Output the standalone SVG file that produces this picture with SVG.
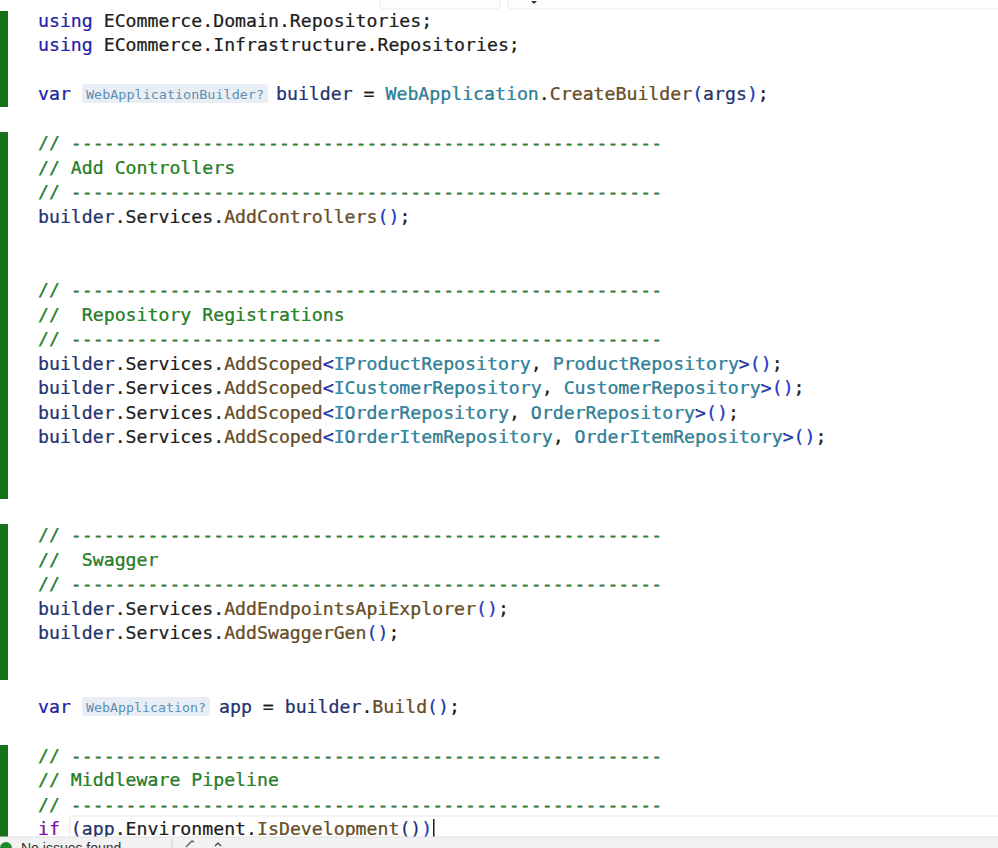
<svg xmlns="http://www.w3.org/2000/svg" width="998" height="848" viewBox="0 0 998 848">
<style>
.c{font-family:"DejaVu Sans Mono","Liberation Mono",monospace;font-size:18.19px;fill:#1e1e1e;white-space:pre;stroke-width:0.2;stroke:currentColor}
.kw{fill:#2323c8}.lv{fill:#1f377f}.m{fill:#74531f}.t{fill:#2b91af}.b{fill:#1f3fd6}.cm{fill:#1f901f}.ctl{fill:#8f08c4}.p{fill:#1e1e1e}
.hint{font-family:"DejaVu Sans Mono","Liberation Mono",monospace;font-size:13px;fill:#5a8fb5;white-space:pre}
.hb{fill:#e9eef5}
.bar{fill:#15721a}
</style>
<rect width="998" height="848" fill="#ffffff"/>
<g id="tabs">
<rect x="380" y="-10" width="120" height="19" rx="4" fill="#fdfdfd" stroke="#ececec"/>
<rect x="508" y="-10" width="500" height="19" rx="4" fill="#fdfdfd" stroke="#ececec"/>
<path d="M531 1 l3 3 l3 -3z" fill="#333"/>
</g>
<g id="gutter">
<rect class="bar" x="0" y="11" width="8" height="96"/>
<rect class="bar" x="0" y="132" width="8" height="367"/>
<rect class="bar" x="0" y="524" width="8" height="156"/>
<rect class="bar" x="0" y="745" width="8" height="92"/>
</g>
<g id="code">
<text class="c" x="38" y="26.5"><tspan class="kw">using</tspan> ECommerce.Domain.Repositories;</text>
<text class="c" x="38" y="51"><tspan class="kw">using</tspan> ECommerce.Infrastructure.Repositories;</text>
<text class="c" x="38" y="100"><tspan class="kw">var</tspan></text>
<rect class="hb" x="82" y="84" width="186" height="19" rx="3"/>
<text class="hint" x="86" y="98.5" textLength="178" lengthAdjust="spacingAndGlyphs">WebApplicationBuilder?</text>
<text class="c" x="276" y="100"><tspan class="lv">builder</tspan> = <tspan class="t">WebApplication</tspan>.<tspan class="m">CreateBuilder</tspan><tspan class="b">(</tspan><tspan class="lv">args</tspan><tspan class="b">)</tspan>;</text>

<text class="c cm" x="38" y="149">// ------------------------------------------------------</text>
<text class="c cm" x="38" y="173.5">// Add Controllers</text>
<text class="c cm" x="38" y="198">// ------------------------------------------------------</text>
<text class="c" x="38" y="222.5"><tspan class="lv">builder</tspan>.Services.<tspan class="m">AddControllers</tspan><tspan class="b">()</tspan>;</text>

<text class="c cm" x="38" y="296">// ------------------------------------------------------</text>
<text class="c cm" x="38" y="320.5">//  Repository Registrations</text>
<text class="c cm" x="38" y="345">// ------------------------------------------------------</text>
<text class="c" x="38" y="369.5"><tspan class="lv">builder</tspan>.Services.<tspan class="m">AddScoped</tspan><tspan class="b">&lt;</tspan><tspan class="t">IProductRepository</tspan>, <tspan class="t">ProductRepository</tspan><tspan class="b">&gt;()</tspan>;</text>
<text class="c" x="38" y="394"><tspan class="lv">builder</tspan>.Services.<tspan class="m">AddScoped</tspan><tspan class="b">&lt;</tspan><tspan class="t">ICustomerRepository</tspan>, <tspan class="t">CustomerRepository</tspan><tspan class="b">&gt;()</tspan>;</text>
<text class="c" x="38" y="418.5"><tspan class="lv">builder</tspan>.Services.<tspan class="m">AddScoped</tspan><tspan class="b">&lt;</tspan><tspan class="t">IOrderRepository</tspan>, <tspan class="t">OrderRepository</tspan><tspan class="b">&gt;()</tspan>;</text>
<text class="c" x="38" y="443"><tspan class="lv">builder</tspan>.Services.<tspan class="m">AddScoped</tspan><tspan class="b">&lt;</tspan><tspan class="t">IOrderItemRepository</tspan>, <tspan class="t">OrderItemRepository</tspan><tspan class="b">&gt;()</tspan>;</text>

<text class="c cm" x="38" y="541">// ------------------------------------------------------</text>
<text class="c cm" x="38" y="565.5">//  Swagger</text>
<text class="c cm" x="38" y="590">// ------------------------------------------------------</text>
<text class="c" x="38" y="614.5"><tspan class="lv">builder</tspan>.Services.<tspan class="m">AddEndpointsApiExplorer</tspan><tspan class="b">()</tspan>;</text>
<text class="c" x="38" y="639"><tspan class="lv">builder</tspan>.Services.<tspan class="m">AddSwaggerGen</tspan><tspan class="b">()</tspan>;</text>

<text class="c" x="38" y="712.5"><tspan class="kw">var</tspan></text>
<rect class="hb" x="82" y="697" width="128" height="19" rx="3"/>
<text class="hint" x="86" y="711.5" textLength="120" lengthAdjust="spacingAndGlyphs">WebApplication?</text>
<text class="c" x="219" y="712.5"><tspan class="lv">app</tspan> = <tspan class="lv">builder</tspan>.<tspan class="m">Build</tspan><tspan class="b">()</tspan>;</text>

<text class="c cm" x="38" y="761.5">// ------------------------------------------------------</text>
<text class="c cm" x="38" y="786">// Middleware Pipeline</text>
<text class="c cm" x="38" y="810.5">// ------------------------------------------------------</text>
<rect x="70" y="816" width="940" height="24" fill="none" stroke="#eaeaea"/>
<text class="c" x="38" y="835"><tspan class="ctl">if</tspan> <tspan class="lv">(</tspan><tspan class="lv">app</tspan>.Environment.<tspan class="m">IsDevelopment</tspan><tspan class="lv">()</tspan><tspan class="b">)</tspan></text>
<rect x="433" y="819" width="1.5" height="19" fill="#1e1e1e"/>
</g>
<g id="status">
<rect x="0" y="837" width="998" height="11" fill="#f2f2f2"/>
<line x1="0" y1="837" x2="998" y2="837" stroke="#e2e2e2"/>
<circle cx="6" cy="848" r="6" fill="#1f8a2b"/>
<text x="21" y="853" font-family="'Liberation Sans',sans-serif" font-size="14" fill="#333">No issues found</text>
<line x1="172" y1="839" x2="172" y2="848" stroke="#cccccc"/>
<path d="M186 847 l6 -6 l2 1" fill="none" stroke="#6b6b6b" stroke-width="1.5"/>
<path d="M215 846 l3 -3 l3 3" fill="none" stroke="#333" stroke-width="1.2"/>
</g>
</svg>
